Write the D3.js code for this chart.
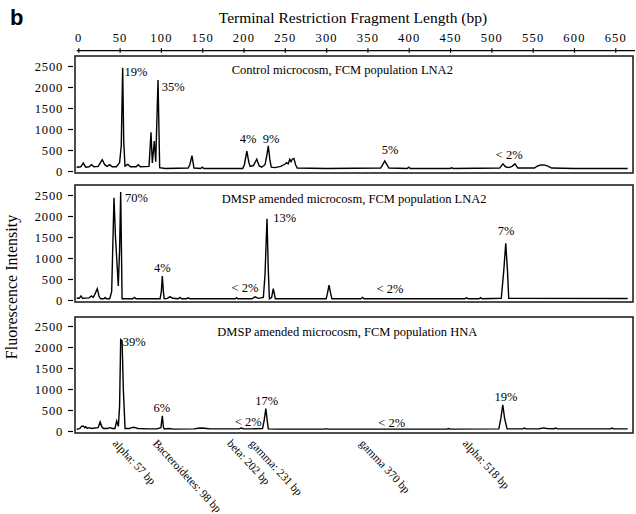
<!DOCTYPE html>
<html><head><meta charset="utf-8">
<script src="https://cdnjs.cloudflare.com/ajax/libs/d3/7.8.5/d3.min.js"></script>
<style>body{margin:0;background:#fff}svg{display:block}</style>
</head><body><svg id="c" width="636" height="514"></svg>
<script>
// ---------------- DATA ----------------
const xTicks = [0,50,100,150,200,250,300,350,400,450,500,550,600,650];
const yTicks = [0,500,1000,1500,2000,2500];
const panelTitles = ["Control microcosm, FCM population LNA2",
  "DMSP amended microcosm, FCM population LNA2",
  "DMSP amended microcosm, FCM population HNA"];
const panelTitleBp = [185.7, 173.6, 168.3];
// [bp, fluorescence]
const traceControlLNA2 = [[-2,90],[3,100],[6,190],[9,90],[13,100],[16,150],[19,100],[24,110],[29,270],[32,150],[35,110],[38,150],[41,100],[46,100],[50,200],[52,600],[53.7,2460],[55,700],[56.5,120],[60,160],[63,100],[70,100],[72.6,150],[75,100],[85.6,110],[88,920],[89.6,190],[92,715],[93.7,220],[96.5,2165],[98.5,80],[105,60],[133,70],[135,150],[137.6,365],[140,70],[148,60],[150,90],[152,60],[199,60],[201,150],[204,475],[206.5,200],[208,110],[212,130],[216,280],[219,120],[222,90],[226,150],[228,350],[230,600],[232,250],[233.6,90],[238,80],[245,110],[250,160],[252,200],[254,170],[256,280],[257.5,220],[259,280],[261,300],[263,150],[265,70],[300,60],[366,70],[369,170],[371,240],[373,170],[376,70],[398,60],[400,90],[402,60],[450,60],[452,75],[454,60],[510,70],[514,170],[517,100],[521,80],[525,110],[528.6,170],[532,70],[552,70],[556,120],[560,145],[565,140],[569,110],[573,70],[600,60],[665,60]];
const traceDmspLNA2 = [[-2,40],[1,40],[3.3,95],[5,40],[13,50],[16,95],[18,60],[20,135],[23,270],[25,95],[27,30],[31,30],[32.5,60],[34,30],[38,30],[40.4,200],[43.2,2435],[45,1500],[48.4,335],[50,1200],[51.3,2570],[53,30],[66,30],[68,60],[70,30],[99,30],[100.5,200],[101.7,570],[103,200],[104,30],[108,40],[111,80],[114,40],[121,30],[123,60],[125,30],[131,30],[133,50],[135,30],[190,30],[191.7,55],[193,30],[210,30],[214,75],[218,40],[224,60],[226,600],[228.4,1935],[230,700],[231.3,30],[234,60],[236,270],[238.5,30],[300,30],[301.5,150],[303.5,355],[305.5,150],[307,30],[342,30],[344,60],[346,30],[468,30],[470,50],[472,30],[485,30],[487,55],[489,30],[512,40],[515,700],[517.4,1350],[519.5,700],[521,40],[665,35]];
const traceDmspHNA = [[-2,40],[2,60],[4,110],[6,120],[8,80],[9,100],[11,60],[13,80],[16,60],[20,70],[24,80],[26.4,215],[28.5,100],[30.5,60],[35,60],[38.4,80],[41,60],[44.4,60],[46.5,240],[48.5,110],[50,600],[51.3,2180],[53,2150],[54.5,1000],[56.6,60],[62,60],[65,80],[67,90],[69,80],[72,60],[85,50],[95,50],[100,80],[101.7,360],[103,100],[104,50],[110,60],[115,45],[140,50],[145,65],[150,70],[155,60],[160,50],[195,50],[197,70],[200,55],[210,50],[223,60],[225,250],[227,535],[229,200],[230,50],[240,45],[298,45],[300,55],[302,45],[446,45],[448,60],[450,45],[509,50],[511.5,300],[513.8,625],[516,300],[519,50],[538,50],[540,70],[542,50],[558,55],[563,75],[567,60],[576,55],[578,70],[580,50],[644,50],[646,70],[648,50],[665,50]];
// peak annotations: [text, bp, fluorescence, anchor]
const notesControlLNA2 = [["19%",55.8,2356,"start"],["35%",101,2006,"start"],["4%",205.4,762,"middle"],["9%",233.3,762,"middle"],["5%",377.4,500,"middle"],["< 2%",521.5,381,"middle"]];
const notesDmspLNA2 = [["70%",56.5,2435,"start"],["4%",101.7,769,"middle"],["< 2%",201.8,293,"middle"],["13%",236,1959,"start"],["< 2%",377.4,262,"middle"],["7%",517.8,1642,"middle"]];
const notesDmspHNA = [["39%",53.8,2119,"start"],["6%",101,559,"middle"],["< 2%",205.8,216,"middle"],["17%",228,720,"middle"],["< 2%",379.4,199,"middle"],["19%",517.8,816,"middle"]];
const taxaLabels = ["alpha: 57 bp","Bacteroidetes: 98 bp","beta: 202 bp","gamma: 231 bp","gamma 370 bp","alpha: 518 bp"];
const taxaAnchorBp = [44.5,93,183,210,343,468];

// ---------------- LAYOUT ----------------
const svg = d3.select("#c");
const serif = "'Liberation Serif','Times New Roman',serif";
const x = d3.scaleLinear().domain([0,650]).range([78.3,615.3]);
const boxL = 75, boxR = 633;

svg.append("text").attr("x",10).attr("y",25).text("b")
  .attr("font-family","'Liberation Sans',Arial,sans-serif").attr("font-weight","bold").attr("font-size",22);
svg.append("text").attr("x",353).attr("y",23).attr("text-anchor","middle")
  .attr("font-family",serif).attr("font-size",15.5).text("Terminal Restriction Fragment Length (bp)");

// top axis
const gx = svg.append("g").attr("transform","translate(0,50.7)")
  .call(d3.axisTop(x).tickValues(xTicks).tickSizeInner(2.5).tickSizeOuter(0).tickPadding(6));
gx.select(".domain").remove();
gx.append("line").attr("x1",76.7).attr("x2",635).attr("stroke","#000").attr("stroke-width",1.3);
gx.selectAll(".tick line").attr("y1",2).attr("stroke-width",1.2);
gx.selectAll(".tick text").attr("font-family",serif).attr("font-size",12.5).attr("letter-spacing","1.2px").attr("fill","#000");

svg.append("text").attr("transform","translate(17,287) rotate(-90)").attr("text-anchor","middle")
  .attr("font-family",serif).attr("font-size",16).text("Fluorescence Intensity");

const panels = [
  {top:56, bottom:173, trace:traceControlLNA2, notes:notesControlLNA2, title:panelTitles[0], titleBp:panelTitleBp[0], titleDy:18},
  {top:185, bottom:302, trace:traceDmspLNA2, notes:notesDmspLNA2, title:panelTitles[1], titleBp:panelTitleBp[1], titleDy:17.5},
  {top:317, bottom:433, trace:traceDmspHNA, notes:notesDmspHNA, title:panelTitles[2], titleBp:panelTitleBp[2], titleDy:19}
];
panels.forEach(p => {
  const y0 = p.bottom - 2;
  const y = d3.scaleLinear().domain([0,2500]).range([y0, y0-105]);
  const g = svg.append("g");
  const clipId = "clip"+p.top;
  g.append("clipPath").attr("id",clipId).append("rect")
    .attr("x",boxL).attr("y",p.top).attr("width",boxR-boxL).attr("height",p.bottom-p.top);
  g.append("path").datum(p.trace)
    .attr("clip-path",`url(#${clipId})`)
    .attr("d", d3.line().x(d=>x(d[0])).y(d=>y(d[1])))
    .attr("fill","none").attr("stroke","#000").attr("stroke-width",1.4).attr("stroke-linejoin","miter");
  g.append("rect").attr("x",boxL).attr("y",p.top).attr("width",boxR-boxL).attr("height",p.bottom-p.top)
    .attr("fill","none").attr("stroke","#222").attr("stroke-width",1.6);
  const ga = g.append("g").attr("transform","translate(73,0)")
    .call(d3.axisLeft(y).tickValues(yTicks).tickSize(5).tickPadding(5).tickFormat(d3.format("d")));
  ga.select(".domain").remove();
  ga.selectAll(".tick line").attr("stroke-width",1.2);
  ga.selectAll(".tick text").attr("font-family",serif).attr("font-size",12.5).attr("letter-spacing","0.8px").attr("fill","#000");
  g.append("text").attr("x",x(p.titleBp)).attr("y",p.top+p.titleDy).attr("font-family",serif).attr("font-size",12.5).text(p.title);
  g.selectAll(".note").data(p.notes).join("text")
    .attr("x",d=>x(d[1])).attr("y",d=>y(d[2])).attr("dy","0.35em").attr("text-anchor",d=>d[3])
    .attr("font-family",serif).attr("font-size",12.5).text(d=>d[0]);
});

// taxon labels, rotated
svg.selectAll(".taxon").data(taxaLabels).join("text")
  .attr("transform",(d,i)=>`translate(${x(taxaAnchorBp[i])-3},${444}) rotate(47)`)
  .attr("font-family",serif).attr("font-size",11.5).text(d=>d);
</script></body></html>
